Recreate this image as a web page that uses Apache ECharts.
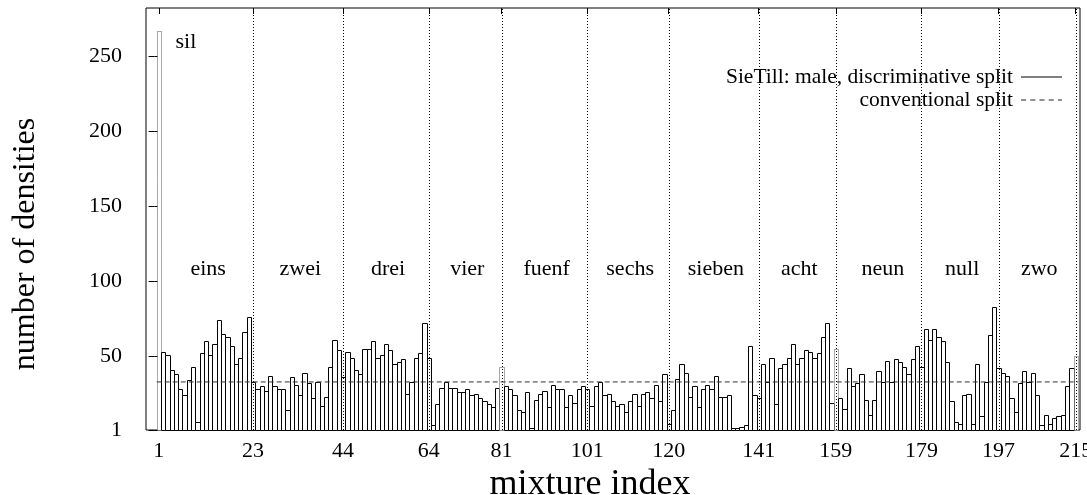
<!DOCTYPE html>
<html>
<head>
<meta charset="utf-8">
<script src="https://cdn.jsdelivr.net/npm/echarts@6/dist/echarts.min.js"></script>
<style>
  html, body { margin: 0; padding: 0; background: #fff; }
  #chart { width: 1087px; height: 495px; }
</style>
</head>
<body>
<div id="chart"></div>
<script>
// Number of densities for each mixture (mixture index 1..215)
const densities = [
  267, 53, 51, 41, 38, 28, 24, 34, 43, 6,
  52, 60, 51, 58, 74, 65, 63, 57, 45, 49,
  66, 76, 33, 28, 30, 27, 37, 30, 28, 28,
  14, 36, 31, 24, 39, 32, 22, 33, 17, 23,
  43, 61, 54, 36, 53, 49, 41, 38, 55, 55,
  60, 49, 51, 58, 54, 45, 46, 48, 25, 33,
  49, 52, 72, 49, 4, 18, 29, 33, 29, 29,
  26, 26, 28, 24, 25, 22, 20, 18, 16, 29,
  43, 30, 28, 24, 14, 13, 26, 2, 21, 25,
  27, 16, 31, 28, 28, 16, 24, 19, 28, 30,
  28, 17, 30, 33, 24, 25, 20, 17, 18, 13,
  20, 25, 17, 25, 26, 22, 31, 20, 38, 5,
  14, 35, 45, 39, 23, 30, 16, 28, 31, 28,
  37, 23, 23, 24, 2, 2, 3, 4, 57, 24,
  22, 45, 33, 49, 18, 42, 45, 49, 58, 45,
  49, 54, 53, 49, 52, 63, 72, 19, 55, 22,
  15, 42, 30, 32, 38, 21, 11, 21, 40, 33,
  47, 33, 48, 46, 43, 38, 48, 57, 43, 68,
  61, 68, 63, 60, 46, 20, 6, 5, 24, 25,
  5, 45, 10, 33, 64, 83, 42, 39, 37, 22,
  13, 32, 40, 33, 39, 24, 4, 11, 5, 9,
  10, 11, 30, 42, 50
];
const mixtureIndex = densities.map((_, i) => i + 1);

// Constant density count of the conventional split
const conventionalSplit = 33;

// Last mixture index of each word model, and the word names
const wordBounds = [23, 44, 64, 81, 101, 120, 141, 159, 179, 197, 215];
const words = ['eins', 'zwei', 'drei', 'vier', 'fuenf', 'sechs', 'sieben', 'acht', 'neun', 'null', 'zwo'];
const wordLabelX = [12.5, 34, 54.5, 73, 91.5, 111, 131, 150.5, 170, 188.5, 206.5];
const wordLabelY = 108;
const silLabel = { text: 'sil', x: 7.3, y: 259 };

// Boxes drawn with a dotted outline (word boundaries / silence)
const dottedBoxes = [1, 81, 159, 215];

// Axis ticks
const xTicks = [1, 23, 44, 64, 81, 101, 120, 141, 159, 179, 197, 215];
const yTicks = [1, 50, 100, 150, 200, 250];

const X_MIN = -2, X_MAX = 216, Y_MIN = 1, Y_MAX = 282;
const FONT = '"Liberation Serif", "DejaVu Serif", serif';

const chart = echarts.init(document.getElementById('chart'), null, { renderer: 'canvas' });

const snap = v => Math.round(v) + 0.5;

const boxData = mixtureIndex.map((x, i) => [x, densities[i]]);

const option = {
  animation: false,
  backgroundColor: '#fff',
  grid: {
    left: 146, right: 7, top: 8, bottom: 65,
    outerBoundsMode: 'none',
    containLabel: false,
    show: true, borderColor: '#000', borderWidth: 1, backgroundColor: 'transparent'
  },
  xAxis: [{
    type: 'value', min: X_MIN, max: X_MAX,
    name: 'mixture index', nameLocation: 'middle', nameGap: 37,
    nameTextStyle: { fontFamily: FONT, fontSize: 36, color: '#000', padding: [0, 46, 0, 0] },
    axisLine: { show: false },
    splitLine: { show: false },
    axisTick: { show: true, inside: true, length: 6, customValues: xTicks, lineStyle: { color: '#000' } },
    axisLabel: { customValues: xTicks, fontFamily: FONT, fontSize: 22, color: '#000', margin: 10, hideOverlap: false }
  }, {
    type: 'value', min: X_MIN, max: X_MAX, position: 'top',
    axisLine: { show: false }, splitLine: { show: false },
    axisTick: { show: true, inside: true, length: 6, customValues: xTicks, lineStyle: { color: '#000' } },
    axisLabel: { show: false }
  }],
  yAxis: [{
    type: 'value', min: Y_MIN, max: Y_MAX,
    name: 'number of densities', nameLocation: 'middle', nameGap: 104, nameRotate: 90,
    nameTextStyle: { fontFamily: FONT, fontSize: 32, color: '#000', padding: [0, 50, 0, 0] },
    axisLine: { show: false },
    splitLine: { show: false },
    axisTick: { show: true, inside: true, length: 6, customValues: yTicks, lineStyle: { color: '#000' } },
    axisLabel: { customValues: yTicks, fontFamily: FONT, fontSize: 22, color: '#000', margin: 24 }
  }, {
    type: 'value', min: Y_MIN, max: Y_MAX, position: 'right',
    axisLine: { show: false }, splitLine: { show: false },
    axisTick: { show: true, inside: true, length: 6, customValues: yTicks, lineStyle: { color: '#000' } },
    axisLabel: { show: false }
  }],
  legend: [{
    data: [{
      name: 'SieTill: male, discriminative split',
      icon: 'path://M0,0h40v1h-40z',
      itemStyle: { color: '#000', borderWidth: 0 }
    }],
    right: 20, top: 61, align: 'right', itemWidth: 41, itemHeight: 1.2,
    textStyle: { fontFamily: FONT, fontSize: 21.5, color: '#000', padding: [0, 3, 0, 0] },
    selectedMode: false
  }, {
    data: [{
      name: 'conventional split',
      icon: 'path://M0,0h5v1h-5z M9,0h5v1h-5z M18,0h5v1h-5z M27,0h5v1h-5z M36,0h4v1h-4z',
      itemStyle: { color: '#222', borderWidth: 0 }
    }],
    right: 20, top: 84, align: 'right', itemWidth: 41, itemHeight: 1.2,
    textStyle: { fontFamily: FONT, fontSize: 21.5, color: '#000', padding: [0, 3, 0, 0] },
    selectedMode: false
  }],
  series: [{
    name: 'SieTill: male, discriminative split',
    type: 'custom',
    xAxisIndex: 0, yAxisIndex: 0,
    data: boxData,
    z: 2,
    renderItem: function (params, api) {
      const x = api.value(0), y = api.value(1);
      const tl = api.coord([x - 0.5, y]);
      const br = api.coord([x + 0.5, Y_MIN]);
      const x0 = snap(tl[0]), x1 = snap(br[0]);
      const y0 = snap(tl[1]), y1 = snap(br[1]);
      const dotted = dottedBoxes.indexOf(x) >= 0;
      return {
        type: 'rect',
        shape: { x: x0, y: y0, width: x1 - x0, height: y1 - y0 },
        style: {
          fill: '#fff',
          stroke: dotted ? '#555' : '#000',
          lineWidth: 1,
          lineDash: dotted ? [1, 1] : null
        }
      };
    }
  }, {
    name: 'conventional split',
    type: 'line',
    xAxisIndex: 0, yAxisIndex: 0,
    data: [[0.5, conventionalSplit], [215.5, conventionalSplit]],
    symbol: 'none',
    z: 4,
    lineStyle: { color: '#333', width: 1, type: [5, 3] }
  }, {
    name: 'word boundaries',
    type: 'custom',
    xAxisIndex: 0, yAxisIndex: 0,
    data: wordBounds,
    z: 3,
    renderItem: function (params, api) {
      const b = api.value(0);
      const p0 = api.coord([b, Y_MIN]);
      const p1 = api.coord([b, Y_MAX]);
      const x = snap(p0[0]);
      return {
        type: 'line',
        shape: { x1: x, y1: p0[1], x2: x, y2: p1[1] },
        style: { stroke: '#000', lineWidth: 1, lineDash: [1, 2] }
      };
    }
  }, {
    name: 'word labels',
    type: 'custom',
    xAxisIndex: 0, yAxisIndex: 0,
    data: words.map((w, i) => [wordLabelX[i], wordLabelY, w]),
    z: 5,
    renderItem: function (params, api) {
      const p = api.coord([api.value(0), api.value(1)]);
      return {
        type: 'text',
        style: {
          x: p[0], y: p[1], text: words[params.dataIndex],
          fontFamily: FONT, fontSize: 22, fill: '#000',
          align: 'center', verticalAlign: 'middle'
        }
      };
    }
  }, {
    name: 'silence label',
    type: 'custom',
    xAxisIndex: 0, yAxisIndex: 0,
    data: [[silLabel.x, silLabel.y]],
    z: 5,
    renderItem: function (params, api) {
      const p = api.coord([api.value(0), api.value(1)]);
      return {
        type: 'text',
        style: {
          x: p[0], y: p[1], text: silLabel.text,
          fontFamily: FONT, fontSize: 22, fill: '#000',
          align: 'center', verticalAlign: 'middle'
        }
      };
    }
  }]
};

chart.setOption(option);
</script>
</body>
</html>
